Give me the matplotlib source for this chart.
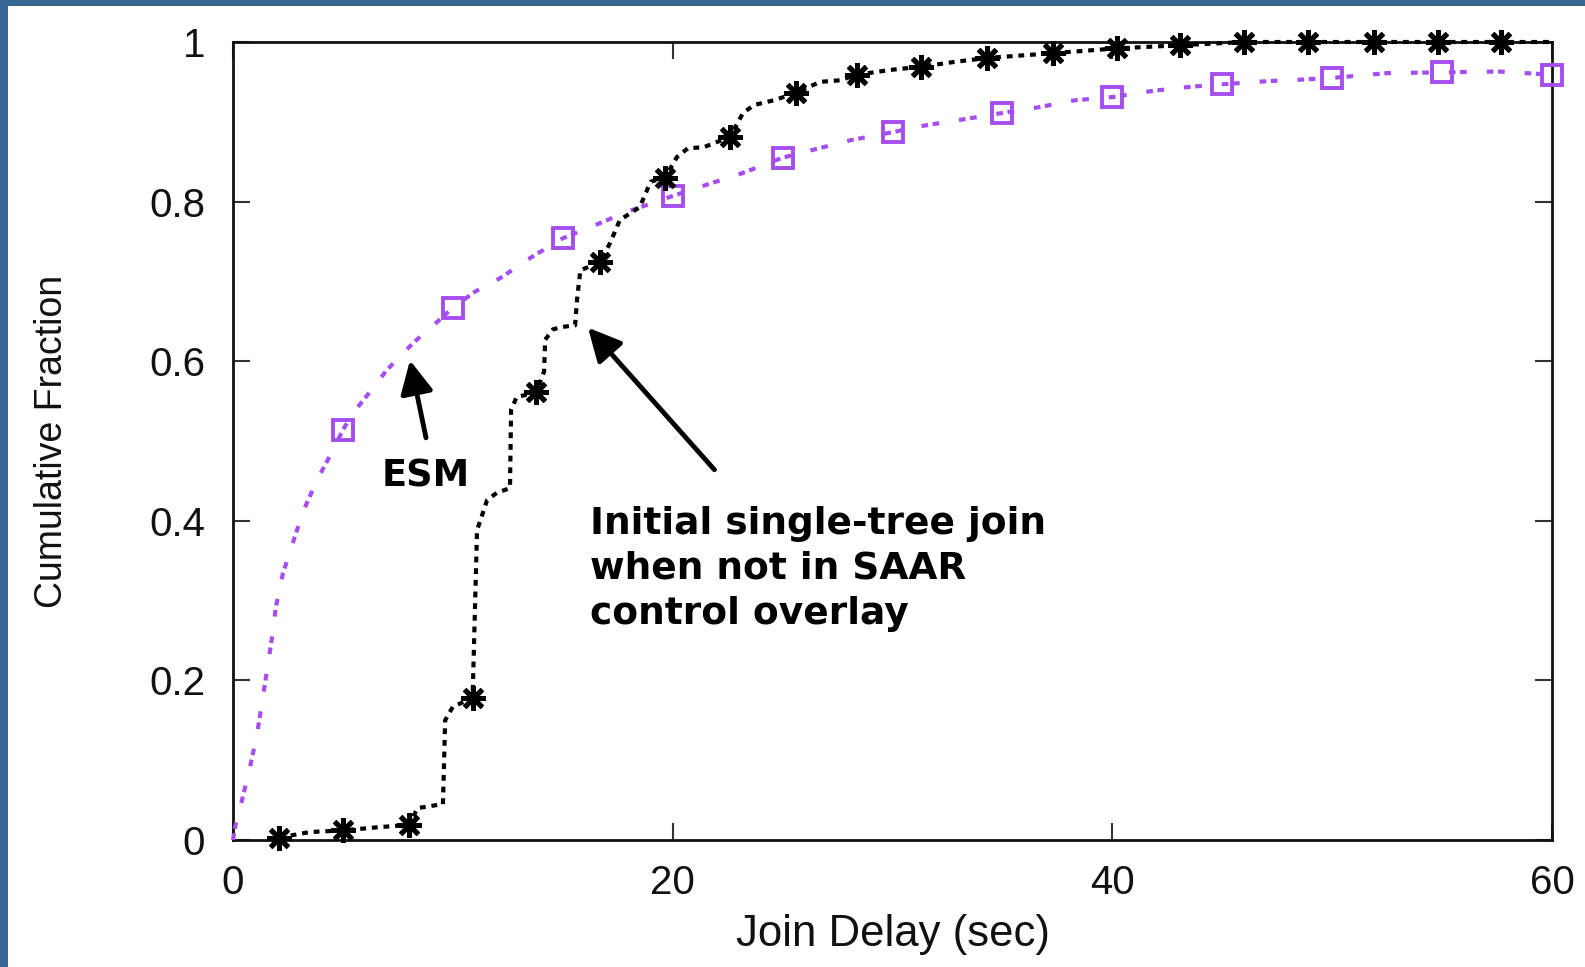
import matplotlib
matplotlib.use("Agg")
import matplotlib.pyplot as plt
from matplotlib.patches import Rectangle

plt.rcParams['font.family'] = ['Liberation Sans', 'DejaVu Sans']

# ESM join delay CDF: dotted curve and its square markers
esm_x = [0.0, 0.09, 0.41, 0.77, 1.09, 1.32, 1.55, 1.77, 1.95, 2.27, 2.73, 3.18,
         3.82, 4.5, 5.0, 5.46, 6.3, 7.0, 8.2, 9.28, 10.0, 11.0, 12.15, 13.5,
         15.0, 16.6, 17.9, 20.0, 21.2, 23.1, 25.0, 26.4, 28.1, 30.0, 31.4, 33.2,
         35.0, 36.6, 38.3, 40.0, 41.9, 43.6, 45.0, 47.1, 48.7, 50.0, 52.5, 55.0,
         57.6, 60.0]
esm_y = [0.0, 0.016, 0.05, 0.091, 0.132, 0.172, 0.213, 0.253, 0.292, 0.334,
         0.373, 0.411, 0.451, 0.486, 0.514, 0.535, 0.564, 0.589, 0.623, 0.649,
         0.667, 0.687, 0.704, 0.729, 0.754, 0.772, 0.787, 0.807, 0.818, 0.835,
         0.855, 0.865, 0.877, 0.887, 0.895, 0.903, 0.911, 0.918, 0.927, 0.931,
         0.939, 0.944, 0.947, 0.951, 0.953, 0.955, 0.961, 0.962, 0.963, 0.959]
esm_pts_x = [5, 10, 15, 20, 25, 30, 35, 40, 45, 50, 55, 60]
esm_pts_y = [0.514, 0.667, 0.754, 0.807, 0.855, 0.887, 0.911, 0.931, 0.947,
             0.955, 0.962, 0.959]

# SAAR join delay CDF: stepped curve and its star markers
saar_x = [2.1, 3.5, 5.0, 6.6, 8.0, 8.4, 9.55, 9.65, 10.0, 10.9, 11.1, 11.56,
          12.0, 12.6, 12.65, 12.9, 13.8, 14.15, 14.2, 14.56, 15.0, 15.56, 15.65,
          15.8, 16.7, 17.15, 17.6, 18.5, 19.0, 19.65, 20.2, 20.7, 21.4, 22.6,
          23.2, 23.7, 24.6, 25.6, 26.7, 27.6, 28.4, 29.9, 31.3, 32.8, 34.3,
          37.3, 40.2, 43.1, 46.0, 60.0]
saar_y = [0.003, 0.010, 0.012, 0.016, 0.019, 0.040, 0.045, 0.150, 0.167, 0.178,
          0.388, 0.426, 0.435, 0.441, 0.539, 0.555, 0.561, 0.587, 0.627, 0.640,
          0.643, 0.645, 0.677, 0.714, 0.724, 0.748, 0.777, 0.793, 0.825, 0.830,
          0.856, 0.867, 0.868, 0.881, 0.911, 0.921, 0.927, 0.936, 0.950, 0.952,
          0.959, 0.965, 0.969, 0.975, 0.980, 0.986, 0.992, 0.996, 1.0, 1.0]
saar_pts_x = [2.1, 5.0, 8.0, 10.9, 13.8, 16.7, 19.65, 22.6, 25.6, 28.4, 31.3,
              34.3, 37.3, 40.2, 43.1, 46.0, 48.9, 51.9, 54.8, 57.7]
saar_pts_y = [0.003, 0.012, 0.019, 0.178, 0.561, 0.724, 0.830, 0.881, 0.936,
              0.959, 0.969, 0.980, 0.986, 0.992, 0.996, 1.0, 1.0, 1.0, 1.0, 1.0]

y_ticks = [0, 0.2, 0.4, 0.6, 0.8, 1.0]
y_tick_labels = ['0', '0.2', '0.4', '0.6', '0.8', '1']
x_ticks = [0, 20, 40, 60]

purple = '#a64df0'
W, H = 1585, 967

fig = plt.figure(figsize=(W / 100, H / 100), dpi=100)
fig.patch.set_facecolor('white')
# slide frame bands along the top and left edge
fig.add_artist(Rectangle((0, 1 - 6 / H), 1, 6 / H, transform=fig.transFigure,
                         color='#356792', lw=0))
fig.add_artist(Rectangle((0, 0), 8 / W, 1, transform=fig.transFigure,
                         color='#356792', lw=0))

ax = fig.add_axes([233 / W, 1 - 840 / H, 1319 / W, 798 / H])

ax.plot(esm_x, esm_y, color=purple, lw=3.0,
        linestyle=(0, (1.6, 1.1, 1.6, 4.8)), clip_on=False, zorder=3)
ax.plot(esm_pts_x, esm_pts_y, linestyle='none', marker='s', ms=15,
        mfc='none', mec=purple, mew=2.8, clip_on=False, zorder=4)

ax.plot(saar_x, saar_y, color='black', lw=3.0,
        linestyle=(0, (1.4, 1.4)), clip_on=False, zorder=5)
ax.plot(saar_pts_x, saar_pts_y, linestyle='none', marker=(8, 2, 0), ms=18,
        mec='black', mew=3.6, clip_on=False, zorder=6)

ax.set_xlim(0, 60)
ax.set_ylim(0, 1)
ax.set_xticks(x_ticks)
ax.set_yticks(y_ticks)
ax.set_yticklabels(y_tick_labels)

for s in ax.spines.values():
    s.set_linewidth(2.0)
    s.set_color('#111111')
ax.tick_params(direction='in', length=12, width=1.5, color='#333333',
               top=True, right=True, labelsize=29, labelcolor='#111111')
ax.tick_params(axis='y', pad=20)
ax.tick_params(axis='x', pad=17)

ax.set_xlabel('Join Delay (sec)', fontsize=31.5, color='#111111')
ax.set_ylabel('Cumulative Fraction', fontsize=27, color='#111111')
ax.xaxis.set_label_coords(0.5, -0.093)
ax.yaxis.set_label_coords(-0.1236, 0.5)

arrow = dict(arrowstyle='-|>,head_length=0.5,head_width=0.25',
             mutation_scale=40, lw=3.5, color='black', shrinkA=0, shrinkB=0)
ax.annotate('', xy=(8.05, 0.601), xytext=(8.78, 0.504), arrowprops=arrow)
ax.annotate('', xy=(16.15, 0.642), xytext=(21.9, 0.464), arrowprops=arrow)

ax.text(6.78, 0.4436, 'ESM', fontsize=26.5, fontweight='bold',
        family='DejaVu Sans', ha='left', va='baseline')
# multi-line text: baseline anchor sits on the last line
ax.text(16.24, 0.271, 'Initial single-tree join\nwhen not in SAAR\ncontrol overlay',
        fontsize=27, fontweight='bold', family='DejaVu Sans', ha='left',
        va='baseline', linespacing=1.32)

fig.savefig('out.png', dpi=100)
